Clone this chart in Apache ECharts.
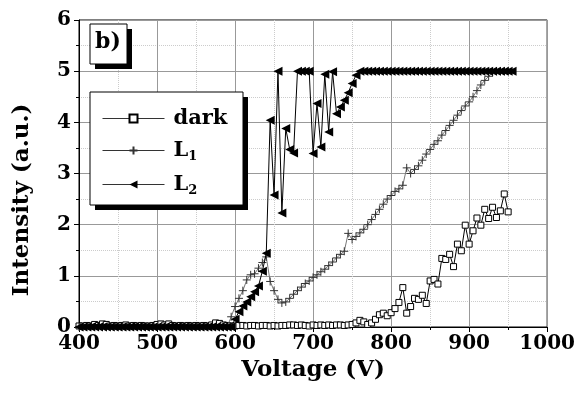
<!DOCTYPE html>
<html><head><meta charset="utf-8">
<script src="https://cdn.jsdelivr.net/npm/echarts@6/dist/echarts.min.js"></script>
<style>html,body{margin:0;padding:0;background:#fff}#c{width:578px;height:394px}</style>
</head><body><div id="c"></div>
<script>
var voltages = [400,405,410,415,420,425,430,435,440,445,450,455,460,465,470,475,480,485,490,495,
500,505,510,515,520,525,530,535,540,545,550,555,560,565,570,575,580,585,590,595,
600,605,610,615,620,625,630,635,640,645,650,655,660,665,670,675,680,685,690,695,
700,705,710,715,720,725,730,735,740,745,750,755,760,765,770,775,780,785,790,795,
800,805,810,815,820,825,830,835,840,845,850,855,860,865,870,875,880,885,890,895,
900,905,910,915,920,925,930,935,940,945,950,955];

var dark = [0.02,0.02,0.03,0.02,0.05,0.03,0.06,0.05,0.02,0.03,0.02,0.03,0.04,0.02,0.03,0.02,0.03,0.02,0.02,0.03,
0.05,0.06,0.04,0.06,0.03,0.02,0.03,0.02,0.03,0.02,0.03,0.02,0.03,0.02,0.04,0.08,0.07,0.04,0.03,0.02,
0.02,0.03,0.03,0.02,0.03,0.03,0.02,0.03,0.03,0.02,0.03,0.02,0.03,0.03,0.04,0.04,0.03,0.04,0.03,0.02,
0.04,0.03,0.04,0.03,0.04,0.03,0.04,0.04,0.03,0.04,0.05,0.08,0.13,0.10,0.05,0.08,0.15,0.24,0.27,0.22,
0.28,0.36,0.48,0.77,0.27,0.40,0.56,0.54,0.62,0.46,0.90,0.93,0.84,1.34,1.32,1.42,1.18,1.62,1.49,1.99,
1.62,1.88,2.13,1.99,2.30,2.12,2.34,2.14,2.27,2.60,2.25,null];

var L1 = [0,0,0,0,0,0,0,0,0,0,0,0,0,0,0,0,0,0,0,0,
0,0,0,0,0,0,0,0,0,0,0,0,0,0,0,0,0,0,0,0.20,
0.40,0.56,0.71,0.92,1.02,1.04,1.15,1.26,1.37,0.89,0.71,0.54,0.47,0.49,0.56,0.64,0.71,0.78,0.85,0.90,
0.97,1.02,1.08,1.13,1.20,1.27,1.35,1.42,1.48,1.83,1.71,1.77,1.84,1.91,2.00,2.10,2.20,2.30,2.40,2.50,
2.57,2.65,2.70,2.77,3.11,3.00,3.08,3.15,3.26,3.38,3.47,3.57,3.64,3.75,3.84,3.94,4.04,4.14,4.23,4.32,
4.40,4.50,4.62,4.73,4.82,4.90,4.97,5.00,5.00,5.00,5.00,null];

var L2 = [0,0,0,0,0,0,0,0,0,0,0,0,0,0,0,0,0,0,0,0,
0,0,0,0,0,0,0,0,0,0,0,0,0,0,0,0,0,0,0,0,
0.15,0.30,0.41,0.49,0.59,0.69,0.80,1.09,1.44,4.04,2.58,5.00,2.23,3.88,3.47,3.40,5.00,5.00,5.00,5.00,
3.39,4.37,3.52,4.94,3.81,4.99,4.17,4.30,4.43,4.58,4.76,4.92,5,5,5,5,5,5,5,5,
5,5,5,5,5,5,5,5,5,5,5,5,5,5,5,5,5,5,5,5,
5,5,5,5,5,5,5,5,5,5,5,5];

var xTicks = [400,500,600,700,800,900,1000];
var yTicks = [0,1,2,3,4,5,6];
var seriesNames = ['dark','L1','L2'];
var xTitle = 'Voltage (V)';
var yTitle = 'Intensity (a.u.)';

function pairs(v){ var out=[]; for(var i=0;i<voltages.length;i++){ if(v[i]!==null && v[i]!==undefined) out.push([voltages[i], v[i]]); } return out; }

var FONT = '"DejaVu Serif",serif';
var chart = echarts.init(document.getElementById('c'), null, {renderer:'canvas'});
chart.setOption({
  animation:false,
  backgroundColor:'#fff',
  grid:{left:79,right:30,top:20,bottom:67,show:true,borderColor:'#000',borderWidth:1,backgroundColor:'transparent'},
  xAxis:{type:'value',min:xTicks[0],max:xTicks[xTicks.length-1],interval:100,
    name:xTitle,nameLocation:'middle',nameGap:30,
    nameTextStyle:{fontFamily:FONT,fontWeight:'bold',fontSize:23,color:'#000'},
    axisLine:{show:true,onZero:false,lineStyle:{color:'#000',width:1}},
    axisTick:{show:true,length:5,inside:false,lineStyle:{color:'#000'}},
    minorTick:{show:true,splitNumber:2,length:3,lineStyle:{color:'#000'}},
    axisLabel:{fontFamily:FONT,fontWeight:'bold',fontSize:20,color:'#000',margin:7,formatter:function(v){return String(v);}},
    splitLine:{show:true,lineStyle:{color:'#999',width:1}},
    minorSplitLine:{show:true,lineStyle:{color:'#ccc',type:'dotted',width:1}}
  },
  yAxis:{type:'value',min:yTicks[0],max:yTicks[yTicks.length-1],interval:1,
    axisLine:{show:true,onZero:false,lineStyle:{color:'#000',width:1}},
    axisTick:{show:true,length:5,inside:false,lineStyle:{color:'#000'}},
    minorTick:{show:true,splitNumber:2,length:3,lineStyle:{color:'#000'}},
    axisLabel:{fontFamily:FONT,fontWeight:'bold',fontSize:20,color:'#000',margin:8,formatter:function(v){return String(v);}},
    splitLine:{show:true,lineStyle:{color:'#999',width:1}},
    minorSplitLine:{show:true,lineStyle:{color:'#ccc',type:'dotted',width:1}}
  },
  legend:{show:true,orient:'vertical',left:97,top:103,itemWidth:62,itemHeight:10,itemGap:11,z:30,
    data:seriesNames,
    lineStyle:{width:1,color:'#333'},
    formatter:function(n){ if(n==='L1') return 'L{s|1}'; if(n==='L2') return 'L{s|2}'; return n; },
    textStyle:{fontFamily:FONT,fontWeight:'bold',fontSize:21,color:'#000',padding:[0,0,0,4],
      rich:{s:{fontFamily:FONT,fontWeight:'bold',fontSize:13,verticalAlign:'bottom',padding:[12,0,0,0],color:'#000'}}}
  },
  graphic:[
    {type:'text',z:22,x:22,y:200,rotation:Math.PI/2,style:{text:yTitle,font:'bold 23px '+FONT,fill:'#000',align:'center',verticalAlign:'middle'}},
    {type:'rect',z:20,shape:{x:95,y:29,width:37,height:40},style:{fill:'#000'}},
    {type:'rect',z:21,shape:{x:90,y:24,width:37,height:40},style:{fill:'#fff',stroke:'#000',lineWidth:1}},
    {type:'text',z:22,left:95,top:31,style:{text:'b)',font:'bold 22px '+FONT,fill:'#000'}},
    {type:'rect',z:20,shape:{x:95,y:97,width:153,height:113},style:{fill:'#000'}},
    {type:'rect',z:21,shape:{x:90,y:92,width:153,height:113},style:{fill:'#fff',stroke:'#000',lineWidth:1}}
  ],
  series:[
    {name:'dark',type:'line',data:pairs(dark),symbol:'rect',symbolSize:6,showAllSymbol:true,
      lineStyle:{color:'#000',width:1},itemStyle:{color:'#fff',borderColor:'#000',borderWidth:1},z:3},
    {name:'L1',type:'line',data:pairs(L1),symbol:'path://M0,5L10,5M5,0L5,10',symbolSize:8,showAllSymbol:true,
      lineStyle:{color:'#777',width:1},itemStyle:{color:'none',borderColor:'#333',borderWidth:1},z:4},
    {name:'L2',type:'line',data:pairs(L2),symbol:'triangle',symbolRotate:90,symbolSize:9,showAllSymbol:true,
      lineStyle:{color:'#000',width:1},itemStyle:{color:'#000',borderColor:'#000',borderWidth:0},z:5}
  ]
});
</script></body></html>
